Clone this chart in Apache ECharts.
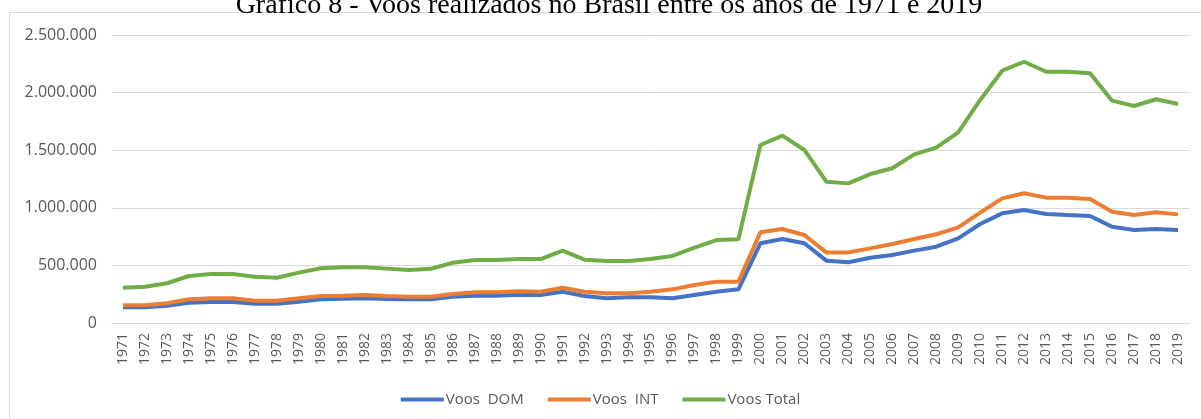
<!DOCTYPE html>
<html>

<head>
  <meta charset="utf-8">
  <title>Voos realizados no Brasil</title>
  <script src="https://cdn.jsdelivr.net/npm/echarts@6/dist/echarts.min.js"></script>
</head>

<body style="margin:0; background:#fff;">
  <div id="main" style="width: 1201px; height: 419px;"></div>
  <script type="text/javascript">
    // anos 1971 - 2019
    var anos = ['1971', '1972', '1973', '1974', '1975', '1976', '1977', '1978', '1979', '1980',
      '1981', '1982', '1983', '1984', '1985', '1986', '1987', '1988', '1989', '1990',
      '1991', '1992', '1993', '1994', '1995', '1996', '1997', '1998', '1999', '2000',
      '2001', '2002', '2003', '2004', '2005', '2006', '2007', '2008', '2009', '2010',
      '2011', '2012', '2013', '2014', '2015', '2016', '2017', '2018', '2019'];

    var voosDom = [136000, 136000, 150000, 176000, 182000, 182000, 168000, 168000, 185000, 206000,
      211000, 214000, 208000, 206000, 206000, 228000, 237000, 237000, 246000, 243000,
      272000, 234000, 214000, 223000, 223000, 214000, 243000, 272000, 292000, 692000,
      729000, 692000, 541000, 527000, 567000, 590000, 628000, 662000, 735000, 859000,
      952000, 981000, 946000, 937000, 929000, 836000, 807000, 816000, 807000];

    var voosInt = [154000, 154000, 171000, 206000, 214000, 214000, 194000, 194000, 214000, 234000,
      237000, 243000, 234000, 228000, 228000, 252000, 266000, 266000, 275000, 272000,
      306000, 272000, 258000, 258000, 272000, 292000, 330000, 359000, 359000, 787000,
      816000, 764000, 613000, 613000, 648000, 686000, 729000, 770000, 830000, 958000,
      1082000, 1126000, 1088000, 1088000, 1076000, 966000, 937000, 961000, 943000];

    var voosTotal = [306000, 315000, 345000, 408000, 425000, 425000, 402000, 393000, 437000, 475000,
      483000, 483000, 472000, 460000, 470000, 523000, 547000, 547000, 555000, 555000,
      628000, 550000, 538000, 538000, 555000, 582000, 654000, 720000, 726000, 1545000,
      1626000, 1502000, 1227000, 1212000, 1293000, 1343000, 1464000, 1522000, 1655000, 1936000,
      2190000, 2268000, 2181000, 2181000, 2167000, 1930000, 1884000, 1942000, 1901000];

    var myChart = echarts.init(document.getElementById('main'));

    function fmt(v) {
      return String(v).replace(/\B(?=(\d{3})+(?!\d))/g, '.');
    }

    function linha(nome, dados, cor) {
      return {
        name: nome,
        type: 'line',
        data: dados,
        symbol: 'none',
        lineStyle: { width: 4, color: cor },
        itemStyle: { color: cor }
      };
    }

    myChart.setOption({
      animation: false,
      textStyle: { fontFamily: 'Open Sans' },
      graphic: [
        {
          type: 'rect',
          shape: { x: 9.5, y: 12.5, width: 1300, height: 500 },
          style: { fill: 'none', stroke: '#d9d9d9', lineWidth: 1 },
          z: -1
        },
        {
          type: 'text',
          x: 609,
          y: 6,
          style: {
            text: 'Gráfico 8 - Voos realizados no Brasil entre os anos de 1971 e 2019',
            font: '28px "Liberation Serif"',
            fill: '#000',
            align: 'center',
            verticalAlign: 'middle'
          },
          z: 10
        }
      ],
      grid: { left: 112, right: 12, top: 35, bottom: 96 },
      legend: {
        data: ['Voos  DOM', 'Voos  INT', 'Voos Total'],
        left: 'center',
        top: 387,
        icon: 'rect',
        itemWidth: 43,
        itemHeight: 4,
        itemGap: 24,
        textStyle: { color: '#595959', fontSize: 15, padding: [0, 0, 0, -3] }
      },
      xAxis: {
        type: 'category',
        data: anos,
        boundaryGap: true,
        axisLine: { lineStyle: { color: '#d9d9d9', width: 1 } },
        axisTick: { show: false },
        axisLabel: { rotate: 90, color: '#595959', fontSize: 14, margin: 10, interval: 0 }
      },
      yAxis: {
        type: 'value',
        min: 0,
        max: 2500000,
        interval: 500000,
        axisLine: { show: false },
        axisTick: { show: false },
        splitLine: { lineStyle: { color: '#d9d9d9', width: 1 } },
        axisLabel: { color: '#595959', fontSize: 16, margin: 15, formatter: fmt }
      },
      series: [
        linha('Voos  DOM', voosDom, '#4472C4'),
        linha('Voos  INT', voosInt, '#ED7D31'),
        linha('Voos Total', voosTotal, '#70AD47')
      ]
    });
  </script>
</body>

</html>
